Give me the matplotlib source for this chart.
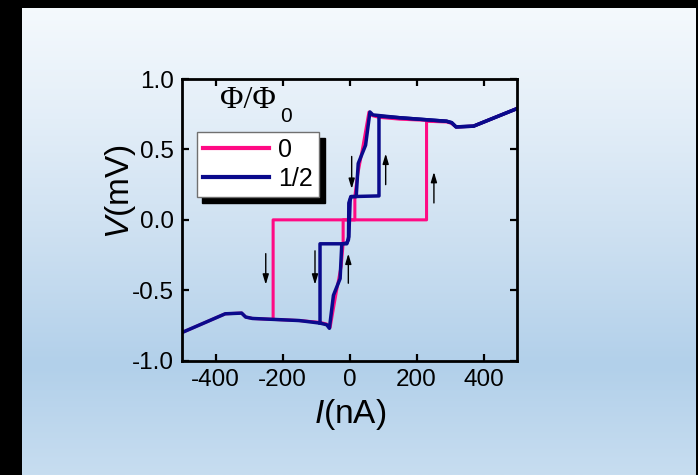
import numpy as np
import matplotlib
matplotlib.use("Agg")
import matplotlib.pyplot as plt
from matplotlib.colors import LinearSegmentedColormap
from matplotlib.patches import Rectangle

plt.rcParams['font.family'] = ['Liberation Sans', 'DejaVu Sans']
plt.rcParams['mathtext.fontset'] = 'custom'
plt.rcParams['mathtext.rm'] = 'Liberation Sans'
plt.rcParams['mathtext.it'] = 'Liberation Sans:italic'
plt.rcParams['axes.unicode_minus'] = False

# I (nA), V (mV)
# Phi/Phi0 = 0, sweep up
pink_up_i = [-500, -371, -322, -310, -290, -150, -88, -68, -58, -40, -25, -19, -19, 230, 230, 290, 305, 318, 370, 500]
pink_up_v = [-0.80, -0.667, -0.662, -0.69, -0.70, -0.715, -0.728, -0.74, -0.765, -0.52, -0.33, -0.17, 0.0, 0.0, 0.70, 0.695, 0.685, 0.66, 0.665, 0.79]
# Phi/Phi0 = 0, sweep down
pink_dn_i = [500, 370, 318, 305, 290, 150, 88, 68, 58, 40, 25, 16, 16, -228, -228]
pink_dn_v = [0.79, 0.665, 0.66, 0.685, 0.70, 0.715, 0.728, 0.74, 0.765, 0.52, 0.33, 0.17, 0.0, 0.0, -0.70]

# Phi/Phi0 = 1/2, sweep up
blue_up_i = [-500, -371, -322, -310, -290, -150, -88, -68, -60, -48, -28, -23, -8, -3, -2, 4, 88, 88, 150, 290, 305, 318, 370, 500]
blue_up_v = [-0.80, -0.667, -0.662, -0.69, -0.70, -0.715, -0.733, -0.745, -0.77, -0.536, -0.417, -0.17, -0.165, -0.14, 0.12, 0.165, 0.17, 0.736, 0.725, 0.70, 0.69, 0.66, 0.665, 0.79]
# Phi/Phi0 = 1/2, sweep down
blue_dn_i = [500, 370, 318, 305, 290, 150, 70, 61, 48, 26, 20, 5, 2, -2, -8, -88, -88]
blue_dn_v = [0.79, 0.665, 0.66, 0.69, 0.70, 0.725, 0.745, 0.766, 0.53, 0.40, 0.165, 0.165, 0.14, -0.12, -0.17, -0.17, -0.733]

# sweep-direction arrows: current, tail V, tip V
arrow_i = [-250, -103, -3.5, 6.5, 108, 252]
arrow_tail = [-0.24, -0.22, -0.45, 0.45, 0.25, 0.12]
arrow_tip = [-0.46, -0.46, -0.24, 0.22, 0.47, 0.34]

labels = ['0', '1/2']
pink = '#ff0a84'
navy = '#0a0a8c'

W, H = 698, 475
fig = plt.figure(figsize=(W / 100, H / 100), dpi=100)

# gradient background with black frame strips
bg = fig.add_axes([0, 0, 1, 1], zorder=-10)
cmap = LinearSegmentedColormap.from_list(
    'bg', [(0, '#f6fafd'), (0.25, '#e3eef8'), (0.5, '#cde0f1'),
           (0.77, '#b2d0ea'), (1, '#c7ddf0')])
bg.imshow(np.linspace(0, 1, 256).reshape(-1, 1), aspect='auto', cmap=cmap,
          extent=[0, 1, 0, 1])
bg.set_xlim(0, 1)
bg.set_ylim(0, 1)
bg.add_patch(Rectangle((0, 0), 22 / W, 1, color='black', lw=0))
bg.add_patch(Rectangle((0, 1 - 8 / H), 1, 8 / H, color='black', lw=0))
bg.add_patch(Rectangle((696 / W, 0), 2 / W, 1, color='black', lw=0))
bg.axis('off')

ax = fig.add_axes([182 / W, 1 - 360.7 / H, 335 / W, 281.7 / H])
ax.patch.set_alpha(0)

ax.plot(pink_up_i, pink_up_v, color=pink, lw=2.2, label=labels[0])
ax.plot(pink_dn_i, pink_dn_v, color=pink, lw=2.2)
ax.plot(blue_up_i, blue_up_v, color=navy, lw=2.5, label=labels[1])
ax.plot(blue_dn_i, blue_dn_v, color=navy, lw=2.5)

for x, v0, v1 in zip(arrow_i, arrow_tail, arrow_tip):
    ax.annotate('', xy=(x, v1), xytext=(x, v0),
                arrowprops=dict(arrowstyle='-|>,head_length=0.6,head_width=0.18',
                                color='black', lw=1, shrinkA=0, shrinkB=0))

ax.set_xlim(-500, 500)
ax.set_ylim(-1.0, 1.0)
ax.set_xticks([-400, -200, 0, 200, 400])
ax.set_yticks([-1.0, -0.5, 0.0, 0.5, 1.0])
ax.set_yticklabels(['-1.0', '-0.5', '0.0', '0.5', '1.0'])
ax.tick_params(direction='in', length=5, width=1.6, labelsize=17.5,
               top=True, right=True, pad=6)
for s in ax.spines.values():
    s.set_linewidth(2)

fig.text(121 / W, 1 - 192 / H, r'$\it{V}$(mV)', rotation=90,
         ha='center', va='center', fontsize=24)
fig.text(350 / W, 1 - 415 / H, r'$\it{I}$(nA)',
         ha='center', va='center', fontsize=24)

leg = ax.legend(loc='upper left', bbox_to_anchor=(0.044, 0.813), borderaxespad=0,
                fontsize=18, handlelength=2.65, handletextpad=0.35,
                labelspacing=0.2, borderpad=0.25, fancybox=False,
                framealpha=1, edgecolor='#707070',
                shadow={'color': 'black', 'alpha': 1, 'ox': 4, 'oy': -4.5})
leg.get_frame().set_linewidth(1)
for h in leg.legend_handles:
    h.set_linewidth(3)

fig.text(220 / W, 1 - 101 / H, 'Φ/Φ', family=['Liberation Serif', 'DejaVu Serif'],
         fontsize=23, ha='left', va='center')
fig.text(280 / W, 1 - 116 / H, '0', fontsize=15, ha='left', va='center')

fig.savefig('out.png', dpi=100)
